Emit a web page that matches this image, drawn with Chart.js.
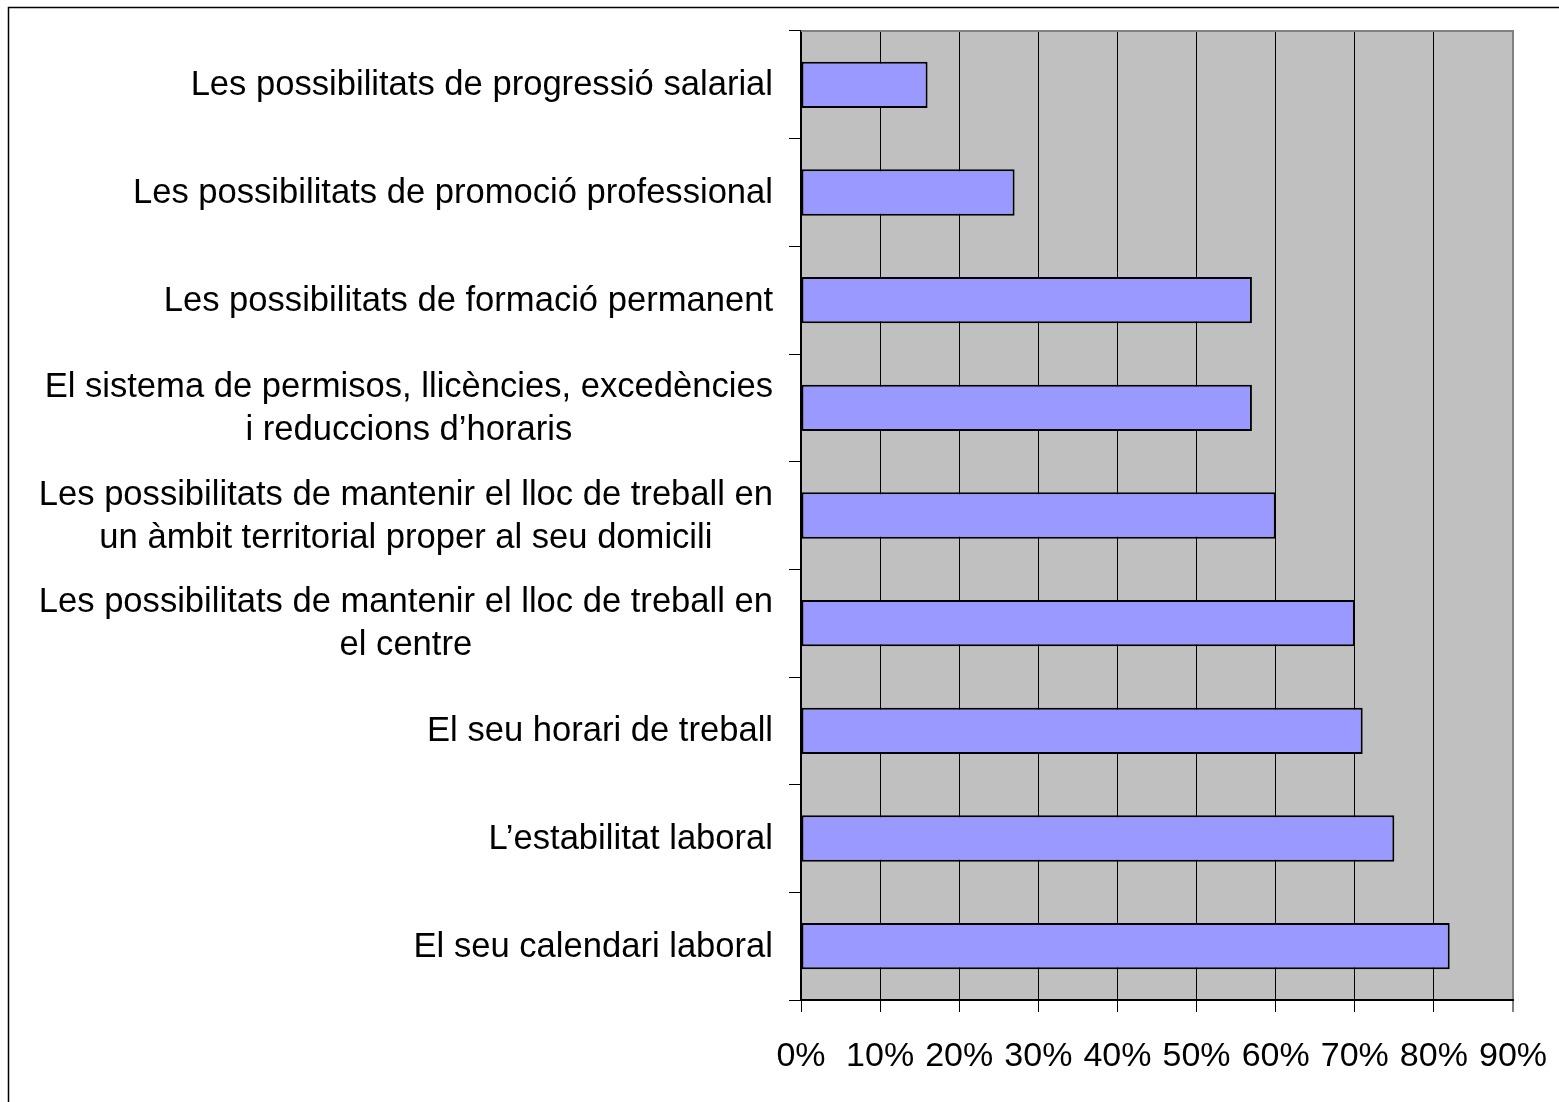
<!DOCTYPE html>
<html>
<head>
<meta charset="utf-8">
<script src="https://cdn.jsdelivr.net/npm/chart.js@4.4.1/dist/chart.umd.min.js"></script>
<style>
html,body{margin:0;padding:0;background:#ffffff;}
#wrap{width:1559px;height:1102px;position:relative;overflow:hidden;}
</style>
</head>
<body>
<div id="wrap"><canvas id="c" width="1559" height="1102"></canvas></div>
<script>
const categories = [
  ["Les possibilitats de progressió salarial"],
  ["Les possibilitats de promoció professional"],
  ["Les possibilitats de formació permanent"],
  ["El sistema de permisos, llicències, excedències", "i reduccions d’horaris"],
  ["Les possibilitats de mantenir el lloc de treball en", "un àmbit territorial proper al seu domicili"],
  ["Les possibilitats de mantenir el lloc de treball en", "el centre"],
  ["El seu horari de treball"],
  ["L’estabilitat laboral"],
  ["El seu calendari laboral"]
];
const values = [16, 27, 57, 57, 60, 70, 71, 75, 82];
const xMin = 0;
const xMax = 90;
const xStep = 10;

const FONT = "'Liberation Sans', Arial, Helvetica, sans-serif";
const LABEL_SIZE = 34.6;
const LABEL_LINE = 43;

const plotBg = {
  id: 'plotBg',
  beforeDraw(chart) {
    const {ctx, chartArea: a} = chart;
    ctx.save();
    ctx.fillStyle = '#C0C0C0';
    ctx.fillRect(a.left, a.top, a.right - a.left, a.bottom - a.top);
    ctx.restore();
  },
  afterDraw(chart) {
    const {ctx, chartArea: a} = chart;
    ctx.save();
    ctx.strokeStyle = '#808080';
    ctx.lineWidth = 2;
    ctx.beginPath();
    ctx.moveTo(a.left, a.top);
    ctx.lineTo(a.right + 1, a.top);
    ctx.stroke();
    const y = chart.scales.y;
    ctx.font = LABEL_SIZE + 'px ' + FONT;
    ctx.fillStyle = '#000000';
    ctx.textAlign = 'center';
    ctx.textBaseline = 'middle';
    const xRight = a.left - 12 - 16;
    categories.forEach((lines, i) => {
      const py = y.getPixelForTick(i) + 1;
      let w = 0;
      lines.forEach(l => { w = Math.max(w, ctx.measureText(l).width); });
      const cx = xRight - w / 2;
      lines.forEach((l, j) => {
        ctx.fillText(l, cx, py + (j - (lines.length - 1) / 2) * LABEL_LINE);
      });
    });
    ctx.strokeStyle = '#000000';
    ctx.lineWidth = 1.5;
    ctx.strokeRect(8.5, 7.5, 1700, 1300);
    ctx.restore();
  }
};

new Chart(document.getElementById('c'), {
  type: 'bar',
  data: {
    labels: categories,
    datasets: [{
      data: values,
      backgroundColor: '#9999FF',
      borderColor: '#000000',
      borderWidth: 2,
      borderSkipped: false,
      barPercentage: 0.43,
      categoryPercentage: 1.0
    }]
  },
  options: {
    indexAxis: 'y',
    responsive: false,
    animation: false,
    layout: {padding: {top: 31, right: 46, left: 0, bottom: 0}},
    plugins: {legend: {display: false}, tooltip: {enabled: false}},
    scales: {
      x: {
        type: 'linear',
        min: xMin,
        max: xMax,
        afterFit(scale) {
          scale.height = 102;
          scale.paddingRight = 0;
          scale.paddingLeft = 0;
        },
        ticks: {
          stepSize: xStep,
          color: '#000000',
          padding: 24,
          font: {family: FONT, size: 34},
          callback: v => v + '%'
        },
        grid: {
          color: c => (c.tick && c.tick.value === xMax) ? '#808080' : '#000000',
          lineWidth: c => (c.tick && c.tick.value === xMax) ? 2 : 1,
          tickColor: '#000000',
          tickLength: 12,
          tickWidth: 1
        },
        border: {display: true, color: '#000000', width: 2}
      },
      y: {
        type: 'category',
        afterFit(scale) { scale.width = 801; },
        ticks: {display: false},
        grid: {
          offset: true,
          drawOnChartArea: false,
          drawTicks: true,
          tickLength: 12,
          color: '#000000',
          tickColor: '#000000',
          lineWidth: 1
        },
        border: {display: true, color: '#000000', width: 2}
      }
    }
  },
  plugins: [plotBg]
});
</script>
</body>
</html>
